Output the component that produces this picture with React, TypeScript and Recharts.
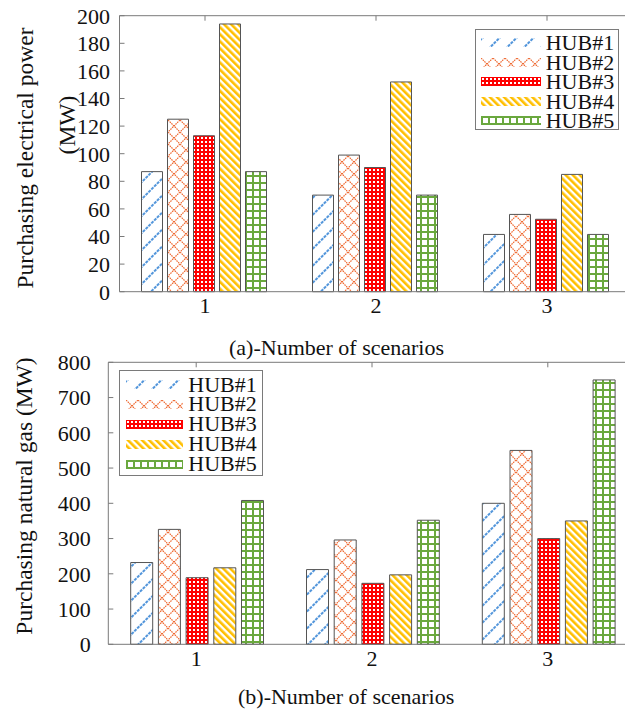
import { BarChart, Bar, XAxis, YAxis, Legend } from 'recharts';

const FONT = '"Liberation Serif", "Times New Roman", serif';
const AXIS = '#7a7a7a';
const INK = '#111';

const scenarios = ['1', '2', '3'];
const hubs = ['HUB#1', 'HUB#2', 'HUB#3', 'HUB#4', 'HUB#5'];

// (a) purchasing electrical power, MW
const powerHub1 = [87, 70, 41.5];
const powerHub2 = [125, 99, 56];
const powerHub3 = [113, 90, 52.5];
const powerHub4 = [194, 152, 85];
const powerHub5 = [87, 70, 41.5];
const powerTicks = [0, 20, 40, 60, 80, 100, 120, 140, 160, 180, 200];

// (b) purchasing natural gas, MW
const gasHub1 = [232, 212, 400];
const gasHub2 = [326, 296, 550];
const gasHub3 = [189, 173, 300];
const gasHub4 = [217, 197, 350];
const gasHub5 = [408, 352, 750];
const gasTicks = [0, 100, 200, 300, 400, 500, 600, 700, 800];

const powerData = scenarios.map((s, i) => ({
    scenario: s,
    h1: powerHub1[i],
    h2: powerHub2[i],
    h3: powerHub3[i],
    h4: powerHub4[i],
    h5: powerHub5[i],
}));

const gasData = scenarios.map((s, i) => ({
    scenario: s,
    h1: gasHub1[i],
    h2: gasHub2[i],
    h3: gasHub3[i],
    h4: gasHub4[i],
    h5: gasHub5[i],
}));

const keys = ['h1', 'h2', 'h3', 'h4', 'h5'];
const fills = ['url(#hub1)', 'url(#hub2)', 'url(#hub3)', 'url(#hub4)', 'url(#hub5)'];

function Patterns() {
    return (
        <svg width={0} height={0} style={{ position: 'absolute' }}>
            <defs>
                <pattern id="hub1" width={12} height={12} patternUnits="userSpaceOnUse" patternTransform="rotate(45)">
                    <rect width={12} height={12} fill="#fff" />
                    <line x1={1} y1={0} x2={1} y2={12} stroke="#1a74d0" strokeWidth={1.5} strokeDasharray="3 1" />
                </pattern>
                <pattern id="hub2" width={12} height={12} patternUnits="userSpaceOnUse">
                    <rect width={12} height={12} fill="#fff" />
                    <path d="M0,0 L12,12 M12,0 L0,12" stroke="#ef6a32" strokeWidth={1.2} strokeDasharray="1.6 0.8" />
                </pattern>
                <pattern id="hub3" width={4} height={4} patternUnits="userSpaceOnUse">
                    <rect width={4} height={4} fill="#ff0000" />
                    <rect x={1} y={1} width={2} height={2} fill="#fff" />
                </pattern>
                <pattern id="hub4" width={5} height={5} patternUnits="userSpaceOnUse" patternTransform="rotate(-45)">
                    <rect width={5} height={5} fill="#fff" />
                    <rect width={2.6} height={5} fill="#ffbf00" />
                </pattern>
                <pattern id="hub5" width={7} height={7} patternUnits="userSpaceOnUse">
                    <rect width={7} height={7} fill="#fff" />
                    <path d="M0,1 H7 M1,0 V7" stroke="#6aa83e" strokeWidth={2} />
                </pattern>
            </defs>
        </svg>
    );
}

type BoxProps = { width: number; height: number; padTop: number; rowH: number; sampleX: number; sampleW: number; textX: number };

function LegendBox({ width, height, padTop, rowH, sampleX, sampleW, textX }: BoxProps) {
    return (
        <div
            style={{
                position: 'relative',
                width,
                height,
                border: `1px solid ${AXIS}`,
                background: '#fff',
                boxSizing: 'border-box',
            }}
        >
            {hubs.map((h, i) => (
                <div key={h} style={{ position: 'absolute', left: 0, top: padTop + i * rowH, height: rowH, width: '100%' }}>
                    <svg style={{ position: 'absolute', left: sampleX, top: (rowH - 9) / 2 }} width={sampleW} height={9}>
                        <rect width={sampleW} height={9} fill={fills[i]} />
                    </svg>
                    <span
                        style={{
                            position: 'absolute',
                            left: textX,
                            top: 0,
                            lineHeight: `${rowH}px`,
                            fontSize: 22,
                            fontFamily: FONT,
                            color: INK,
                            whiteSpace: 'nowrap',
                        }}
                    >
                        {h}
                    </span>
                </div>
            ))}
        </div>
    );
}

const tickStyle = { fontSize: 22, fill: INK, fontFamily: FONT };

export default function App() {
    return (
        <div style={{ position: 'fixed', left: 0, top: 0, width: 625, height: 714, overflow: 'hidden', background: '#fff' }}>
            <Patterns />

            <div style={{ position: 'absolute', left: 0, top: 0 }}>
                <BarChart
                    width={660}
                    height={362}
                    data={powerData}
                    margin={{ top: 14.7, right: 27.5, bottom: 0, left: 0 }}
                    barCategoryGap={22}
                    barGap={5}
                >
                    <XAxis
                        xAxisId="top"
                        orientation="top"
                        dataKey="scenario"
                        height={1}
                        tickSize={-5}
                        tickFormatter={() => ''}
                        axisLine={{ stroke: AXIS }}
                        tickLine={{ stroke: AXIS }}
                    />
                    <XAxis
                        dataKey="scenario"
                        height={70.3}
                        tickSize={-5}
                        tickMargin={10.4}
                        tickLine={false}
                        axisLine={{ stroke: AXIS }}
                        tick={tickStyle}
                        label={() => (
                            <text x={229} y={355} fontFamily={FONT} fontSize={22} fill={INK}>
                                (a)-Number of scenarios
                            </text>
                        )}
                    />
                    <YAxis
                        width={119.5}
                        domain={[0, 200]}
                        ticks={powerTicks}
                        interval={0}
                        tickSize={-5}
                        tickMargin={14.5}
                        axisLine={{ stroke: AXIS }}
                        tickLine={{ stroke: AXIS }}
                        tick={tickStyle}
                        label={() => (
                            <g fontFamily={FONT} fontSize={23.5} fill={INK}>
                                <text x={25} y={158} transform="rotate(-90 25 158)" textAnchor="middle" dominantBaseline="central">
                                    Purchasing electrical power
                                </text>
                                <text x={67} y={125} transform="rotate(-90 67 125)" textAnchor="middle" dominantBaseline="central">
                                    (MW)
                                </text>
                            </g>
                        )}
                    />
                    <Legend
                        layout="vertical"
                        align="center"
                        verticalAlign="middle"
                        wrapperStyle={{ left: 474.7, top: 29, width: 144, height: 101 }}
                        content={() => (
                            <LegendBox width={144} height={101} padTop={3} rowH={19.5} sampleX={5} sampleW={60} textX={70} />
                        )}
                    />
                    {keys.map((k, i) => (
                        <Bar
                            key={k}
                            dataKey={k}
                            name={hubs[i]}
                            fill={fills[i]}
                            stroke="#555"
                            strokeWidth={1}
                            isAnimationActive={false}
                        />
                    ))}
                </BarChart>
            </div>

            <div style={{ position: 'absolute', left: 0, top: 340 }}>
                <BarChart
                    width={660}
                    height={374}
                    data={gasData}
                    margin={{ top: 21.3, right: 24.3, bottom: 0, left: 0 }}
                    barCategoryGap={22.4}
                    barGap={5.7}
                >
                    <XAxis
                        xAxisId="top"
                        orientation="top"
                        dataKey="scenario"
                        height={1}
                        tickSize={-5}
                        tickFormatter={() => ''}
                        axisLine={{ stroke: AXIS }}
                        tickLine={{ stroke: AXIS }}
                    />
                    <XAxis
                        dataKey="scenario"
                        height={69.7}
                        tickSize={-5}
                        tickMargin={11.1}
                        tickLine={false}
                        axisLine={{ stroke: AXIS }}
                        tick={tickStyle}
                        label={() => (
                            <text x={238} y={364} fontFamily={FONT} fontSize={22} fill={INK}>
                                (b)-Number of scenarios
                            </text>
                        )}
                    />
                    <YAxis
                        width={108.3}
                        domain={[0, 800]}
                        ticks={gasTicks}
                        interval={0}
                        tickSize={-5}
                        tickMargin={22.6}
                        axisLine={{ stroke: AXIS }}
                        tickLine={{ stroke: AXIS }}
                        tick={tickStyle}
                        label={() => (
                            <text
                                x={23.5}
                                y={156}
                                transform="rotate(-90 23.5 156)"
                                textAnchor="middle"
                                dominantBaseline="central"
                                fontFamily={FONT}
                                fontSize={23.5}
                                fill={INK}
                            >
                                Purchasing natural gas (MW)
                            </text>
                        )}
                    />
                    <Legend
                        layout="vertical"
                        align="center"
                        verticalAlign="middle"
                        wrapperStyle={{ left: 119.3, top: 30, width: 144, height: 106 }}
                        content={() => (
                            <LegendBox width={144} height={106} padTop={3.5} rowH={19.9} sampleX={5.5} sampleW={57} textX={68} />
                        )}
                    />
                    {keys.map((k, i) => (
                        <Bar
                            key={k}
                            dataKey={k}
                            name={hubs[i]}
                            fill={fills[i]}
                            stroke="#555"
                            strokeWidth={1}
                            isAnimationActive={false}
                        />
                    ))}
                </BarChart>
            </div>
        </div>
    );
}
